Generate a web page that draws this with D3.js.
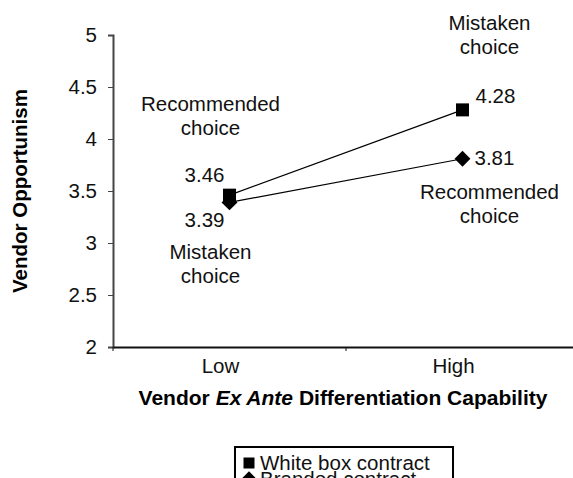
<!DOCTYPE html>
<html>
<head>
<meta charset="utf-8">
<script src="https://cdn.jsdelivr.net/npm/d3@7"></script>
<style>
  body { margin: 0; background: #fff; }
  svg { font-family: "Liberation Sans", Arial, sans-serif; }
</style>
</head>
<body>
<div id="chart"></div>
<script>
// chart data
const categories = ["Low", "High"];
const seriesNames = ["White box contract", "Branded contract"];
const whiteBox = [3.46, 4.28];
const branded = [3.39, 3.81];
const yTicks = [2, 2.5, 3, 3.5, 4, 4.5, 5];
const choiceWhiteBox = ["Recommended choice", "Mistaken choice"];
const choiceBranded = ["Mistaken choice", "Recommended choice"];

const W = 573, H = 478;
const margin = { top: 35, left: 113, bottom: 131, right: -6 };
const fs = 20.5;

const svg = d3.select("#chart").append("svg")
  .attr("width", W)
  .attr("height", H);

const x = d3.scaleBand().domain(categories).range([margin.left, W - margin.right]);
const y = d3.scaleLinear().domain([2, 5]).range([H - margin.bottom, margin.top]);
const cx = d => x(d) + x.bandwidth() / 2;

// y axis
const yAxis = svg.append("g")
  .attr("transform", `translate(${margin.left},0)`)
  .call(d3.axisLeft(y).tickValues(yTicks).tickSize(5).tickPadding(11).tickFormat(d3.format("")));
yAxis.select(".domain").attr("stroke", "#444").attr("stroke-width", 2);
yAxis.selectAll(".tick line").attr("stroke", "#444");
yAxis.selectAll("text").attr("font-size", fs).attr("fill", "#111");

// x axis
const xAxis = svg.append("g")
  .attr("transform", `translate(0,${y(2)})`)
  .call(d3.axisBottom(x).tickSize(0).tickPadding(11));
xAxis.select(".domain").attr("stroke", "#111").attr("stroke-width", 2);
xAxis.selectAll("text").attr("font-size", fs).attr("fill", "#111").attr("dx", -9);
// small ticks at band edges
svg.append("g").selectAll("line")
  .data(x.domain().concat([null]))
  .join("line")
  .attr("x1", d => d === null ? x.range()[1] : x(d))
  .attr("x2", d => d === null ? x.range()[1] : x(d))
  .attr("y1", y(2))
  .attr("y2", y(2) + 4)
  .attr("stroke", "#111");

// axis titles
svg.append("text")
  .attr("transform", `translate(27,${(y(2) + y(5)) / 2}) rotate(-90)`)
  .attr("text-anchor", "middle")
  .attr("font-size", 20.5)
  .attr("font-weight", "bold")
  .text("Vendor Opportunism");

const xt = svg.append("text")
  .attr("x", 343)
  .attr("y", y(2) + 58)
  .attr("text-anchor", "middle")
  .attr("font-size", 21)
  .attr("font-weight", "bold");
xt.append("tspan").text("Vendor ");
xt.append("tspan").attr("font-style", "italic").text("Ex Ante");
xt.append("tspan").text(" Differentiation Capability");

// lines
const line = d3.line().x((d, i) => cx(categories[i])).y(d => y(d));
[whiteBox, branded].forEach(s => {
  svg.append("path")
    .attr("d", line(s))
    .attr("fill", "none")
    .attr("stroke", "#000")
    .attr("stroke-width", 1.2);
});

const square = d3.symbol().type(d3.symbolSquare).size(169);
const diamond = d3.symbol().type(d3.symbolDiamond2).size(160);

svg.append("g").selectAll("path")
  .data(whiteBox)
  .join("path")
  .attr("d", square)
  .attr("transform", (d, i) => `translate(${cx(categories[i])},${y(d)})`);

svg.append("g").selectAll("path")
  .data(branded)
  .join("path")
  .attr("d", diamond)
  .attr("transform", (d, i) => `translate(${cx(categories[i])},${y(d)})`);

// value labels
const fmt = d3.format(".2f");
const ann = svg.append("g").attr("font-size", fs).attr("fill", "#111");
// Low: white box above, branded below; High: to the right
ann.append("text").attr("x", cx("Low") - 25).attr("y", y(whiteBox[0]) - 13)
  .attr("text-anchor", "middle").text(fmt(whiteBox[0]));
ann.append("text").attr("x", cx("Low") - 25).attr("y", y(branded[0]) + 25)
  .attr("text-anchor", "middle").text(fmt(branded[0]));
ann.append("text").attr("x", cx("High") + 13).attr("y", y(whiteBox[1]) - 7)
  .text(fmt(whiteBox[1]));
ann.append("text").attr("x", cx("High") + 12).attr("y", y(branded[1]) + 6)
  .text(fmt(branded[1]));

// choice labels
function twoLine(text, xPos, yPos) {
  const words = text.split(" ");
  const t = ann.append("text").attr("text-anchor", "middle");
  t.append("tspan").attr("x", xPos).attr("y", yPos).text(words[0]);
  t.append("tspan").attr("x", xPos).attr("y", yPos + 24).text(words[1]);
}
twoLine(choiceWhiteBox[0], cx("Low") - 19, y(whiteBox[0]) - 84);
twoLine(choiceBranded[0], cx("Low") - 19, y(branded[0]) + 57);
twoLine(choiceWhiteBox[1], cx("High") + 27, y(whiteBox[1]) - 80);
twoLine(choiceBranded[1], cx("High") + 27, y(branded[1]) + 40);

// legend
const lg = svg.append("g").attr("transform", "translate(235,447)");
lg.append("rect")
  .attr("width", 218)
  .attr("height", 60)
  .attr("fill", "#fff")
  .attr("stroke", "#000")
  .attr("stroke-width", 2);
const lgItems = lg.selectAll("g.item")
  .data(seriesNames)
  .join("g")
  .attr("class", "item")
  .attr("transform", (d, i) => `translate(14,${16 + i * 16})`);
lgItems.append("path")
  .attr("d", (d, i) => i === 0 ? d3.symbol().type(d3.symbolSquare).size(121)() : d3.symbol().type(d3.symbolDiamond2).size(150)());
lgItems.append("text")
  .attr("x", 11)
  .attr("y", 7)
  .attr("font-size", fs)
  .attr("fill", "#111")
  .text(d => d);
</script>
</body>
</html>
